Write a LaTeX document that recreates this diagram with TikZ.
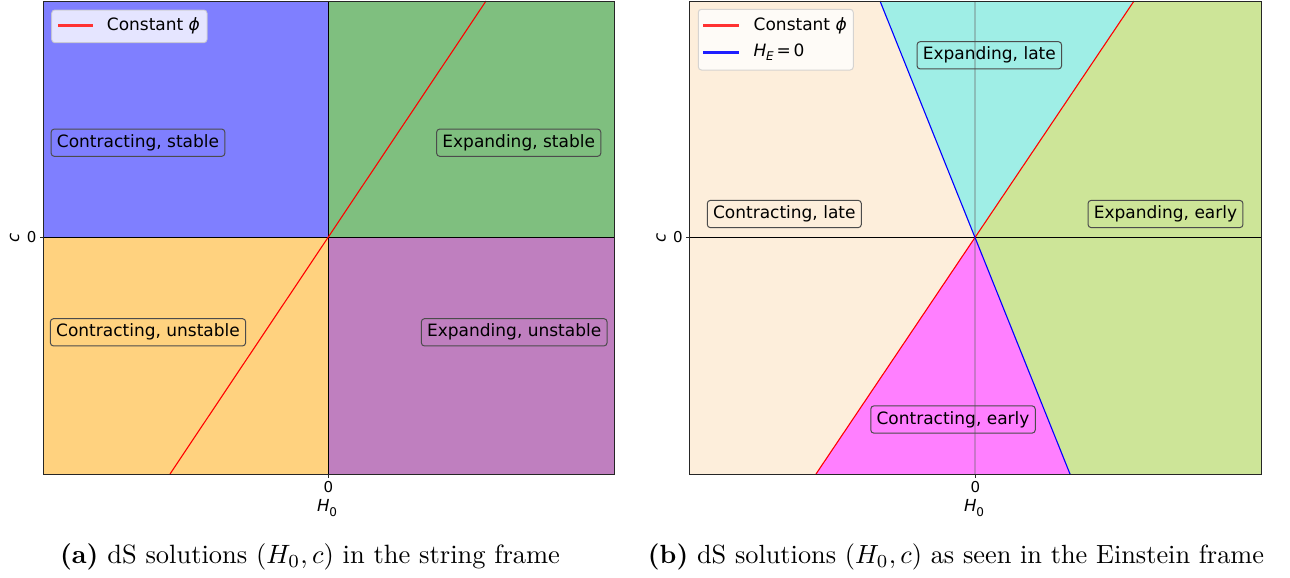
\documentclass[tikz,border=0pt]{standalone}
\usepackage{graphicx}
\usepackage{fontspec}
\newfontfamily\dv{DejaVu Sans}
\definecolor{qblue}{RGB}{127,127,255}
\definecolor{qgreen}{RGB}{127,191,127}
\definecolor{qorange}{RGB}{255,210,127}
\definecolor{qpurple}{RGB}{191,127,191}
\definecolor{qbeige}{RGB}{253,238,219}
\definecolor{qcyan}{RGB}{159,238,230}
\definecolor{qlime}{RGB}{205,229,152}
\definecolor{qmag}{RGB}{255,127,255}
\definecolor{legred}{RGB}{255,50,50}
\definecolor{legblue}{RGB}{30,30,255}
\definecolor{pured}{RGB}{255,0,0}
\definecolor{pureblue}{RGB}{0,0,255}
\tikzset{
  lbl/.style={draw=black!70, line width=0.5pt, rounded corners=1.6pt, font=\dv\fontsize{8.5}{10}\selectfont, inner xsep=2.9pt, inner ysep=0pt, minimum height=13.65pt},
  legbox/.style={fill=white, fill opacity=0.8, draw=black!20, draw opacity=0.8, rounded corners=1.6pt, line width=0.5pt},
  legtxt/.style={anchor=west, font=\dv\fontsize{8.5}{10}\selectfont, inner sep=0pt},
  ticklbl/.style={font=\dv\fontsize{7.5}{8}\selectfont, inner sep=0pt},
  axlbl/.style={font=\dv\fontsize{8.3}{9}\selectfont, inner sep=0pt},
  axframe/.style={draw=black!85, line width=0.5pt},
  zeroline/.style={draw=black, line width=0.5pt},
  philine/.style={draw=pured, line width=0.55pt},
  heline/.style={draw=pureblue, line width=0.55pt},
  capt/.style={inner sep=0pt}
}
\begin{document}
\begin{tikzpicture}[x=0.5pt,y=-0.5pt]
\useasboundingbox (0,0) rectangle (1290,578);
% ---------- left panel ----------
\coordinate (O1) at (328,237);
\fill[qblue] (43,1) rectangle (O1);
\fill[qgreen] (328,1) rectangle (614,237);
\fill[qorange] (43,237) rectangle (328,474);
\fill[qpurple] (O1) rectangle (614,474);
\draw[zeroline] (43,237) -- (614,237);
\draw[zeroline] (328,1) -- (328,474);
\draw[philine] (170,474) -- (486,1);
\draw[axframe] (43,1) rectangle (614,474);
\draw[axframe] (43,237) -- (39.5,237);
\draw[axframe] (328,474) -- (328,477.5);
\node[ticklbl] (y0a) at (31.7,237.5) {0};
\node[axlbl, rotate=90] (ca) at (14.5,237.5) {\itshape c};
\node[ticklbl] (x0a) at (328.5,487) {0};
\node[axlbl] (ha) at (327,508) {\itshape H\kern-0.02em\raisebox{-0.25em}{\fontsize{6}{7}\selectfont\upshape 0}};
\node[lbl] (cs) at (138,142.7) {Contracting, stable};
\node[lbl] (es) at (518.7,142.7) {Expanding, stable};
\node[lbl] (cu) at (148,332.3) {Contracting, unstable};
\node[lbl] (eu) at (514.2,332.3) {Expanding, unstable};
\begin{scope}
\draw[legbox] (51.7,10) rectangle (207,42.7);
\end{scope}
\begin{scope}
\fill[legred] (57.7,24.2) rectangle (93,26.8);
\end{scope}
\node[legtxt] (la) at (106.5,25.5) {Constant \itshape ϕ};
\node[capt] (capa) at (310,557) {\resizebox{250pt}{!}{\textbf{(a)} dS solutions $(H_0,c)$ in the string frame}};
% ---------- right panel ----------
\coordinate (O2) at (975,237);
\fill[qbeige] (689,1) -- (880,1) -- (O2) -- (816,474) -- (689,474) -- cycle;
\fill[qcyan] (880,1) -- (1134,1) -- (O2) -- cycle;
\fill[qlime] (1134,1) -- (1261,1) -- (1261,474) -- (1070,474) -- (O2) -- cycle;
\fill[qmag] (816,474) -- (1070,474) -- (O2) -- cycle;
\draw[draw=black!60, opacity=0.35, line width=0.75pt] (975,1) -- (975,474);
\draw[zeroline] (689,237) -- (1261,237);
\draw[philine] (816,474) -- (1134,1);
\draw[heline] (880,1) -- (1070,474);
\draw[axframe] (689,1) rectangle (1261,474);
\draw[axframe] (689,237) -- (685.5,237);
\draw[axframe] (975,474) -- (975,477.5);
\node[ticklbl] (y0b) at (678,237.5) {0};
\node[axlbl, rotate=90] (cb) at (661,237.5) {\itshape c};
\node[ticklbl] (x0b) at (975.5,487) {0};
\node[axlbl] (hb) at (974,508) {\itshape H\kern-0.02em\raisebox{-0.25em}{\fontsize{6}{7}\selectfont\upshape 0}};
\node[lbl] (el) at (989.3,55.3) {Expanding, late};
\node[lbl] (cl) at (784.3,214) {Contracting, late};
\node[lbl] (ee) at (1165.5,214) {Expanding, early};
\node[lbl] (ce) at (953,419.5) {Contracting, early};
\begin{scope}
\draw[legbox] (698.3,9.3) rectangle (853.3,70);
\end{scope}
\begin{scope}
\fill[legred] (703.3,24.2) rectangle (739.3,26.8);
\fill[legblue] (703.3,51.2) rectangle (739.3,53.8);
\end{scope}
\node[legtxt] (lb1) at (753.3,25.5) {Constant \itshape ϕ};
\node[legtxt] (lb2) at (753.3,52.5) {\itshape H\kern-0.02em\raisebox{-0.25em}{\fontsize{6}{7}\selectfont E}\upshape\,=\,0};
\node[capt] (capb) at (956,557) {\resizebox{308pt}{!}{\textbf{(b)} dS solutions $(H_0,c)$ as seen in the Einstein frame}};
\end{tikzpicture}
\end{document}
